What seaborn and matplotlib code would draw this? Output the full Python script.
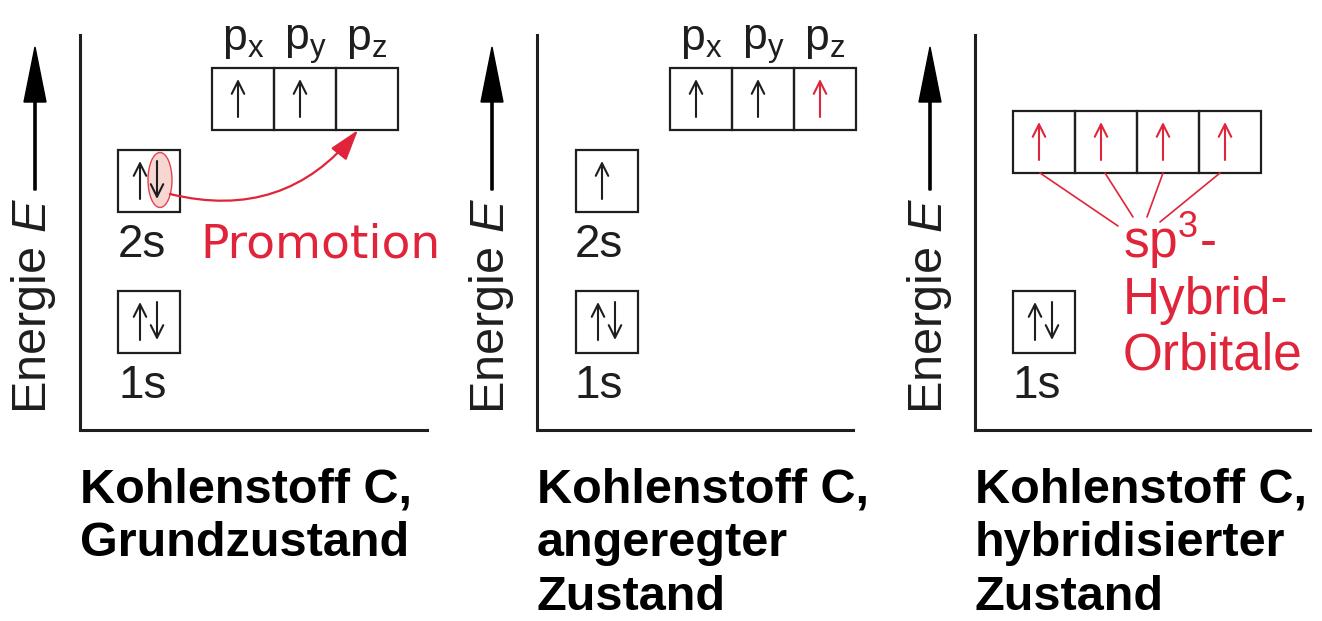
import matplotlib
matplotlib.use('Agg')
import matplotlib.pyplot as plt
from matplotlib.patches import Rectangle, Ellipse
import seaborn as sns

# energy of each level = bottom edge of its box, in px above the energy axis
level_1s = 77
level_2s = 218
level_2p = 300
level_sp3 = 257

# electrons in each orbital box
ground_1s = [2]
ground_2s = [2]
ground_2p = [1, 1, 0]
excited_1s = [2]
excited_2s = [1]
excited_2p = [1, 1, 1]
hybrid_1s = [2]
hybrid_sp3 = [1, 1, 1, 1]

# which electrons are drawn red (new / changed ones)
excited_2p_red = [False, False, True]
hybrid_sp3_red = [True, True, True, True]

p_labels = ['x', 'y', 'z']
title_ground = ['Kohlenstoff C,', 'Grundzustand']
title_excited = ['Kohlenstoff C,', 'angeregter', 'Zustand']
title_hybrid = ['Kohlenstoff C,', 'hybridisierter', 'Zustand']
sp3_label = ['sp$^3$-', 'Hybrid-', 'Orbitale']

# connector lines from the sp3 boxes to the label
sp3_line_x0 = [65, 130, 188, 245]
sp3_line_x1 = [143, 158, 172, 185]
sp3_line_y1 = [204, 213, 213, 208]

RED = '#e0243a'
INK = '#1e1e1e'
BOX = 62

sns.set_theme(style='white')
plt.rcParams['font.family'] = ['Liberation Sans', 'DejaVu Sans']
plt.rcParams['mathtext.fontset'] = 'custom'
plt.rcParams['mathtext.rm'] = 'Liberation Sans'
plt.rcParams['mathtext.it'] = 'Liberation Sans:italic'

W, H = 1322, 621
fig = plt.figure(figsize=(W / 100, H / 100), dpi=100)
fig.patch.set_facecolor('white')


def make_panel(x0, width):
    # axes in pixel units, origin at the corner of the energy axis
    ax = fig.add_axes([x0 / W, (H - 430) / H, width / W, 395 / H])
    ax.set_xlim(0, width)
    ax.set_ylim(0, 395)
    ax.set_xticks([])
    ax.set_yticks([])
    ax.set_facecolor('none')
    sns.despine(ax=ax)
    for s in ['left', 'bottom']:
        ax.spines[s].set_linewidth(2.2)
        ax.spines[s].set_color(INK)
    # energy arrow + label
    ax.arrow(-45, 240, 0, 143, width=2.2, head_width=22, head_length=55,
             length_includes_head=True, fc='black', ec='black', clip_on=False)
    ax.text(-46, 124, 'Energie $E$', rotation=90, ha='center', va='center',
            fontsize=35, color=INK)
    return ax


def spin(ax, x, cy, up, color):
    top, bot = cy + 20, cy - 18
    start, end = ((x, bot), (x, top)) if up else ((x, top), (x, bot))
    ax.annotate('', xy=end, xytext=start, annotation_clip=False,
                arrowprops=dict(arrowstyle='->,head_length=0.9,head_width=0.45',
                                lw=1.5, color=color, shrinkA=0, shrinkB=0,
                                mutation_scale=10))


def boxes(ax, x0, y0, occ, red=None):
    red = red or [False] * len(occ)
    for i, (n, r) in enumerate(zip(occ, red)):
        bx = x0 + i * BOX
        ax.add_patch(Rectangle((bx, y0), BOX, BOX, fill=False, lw=1.6,
                               ec=INK, clip_on=False))
        cx, cy = bx + BOX / 2, y0 + BOX / 2
        c = RED if r else INK
        if n == 1:
            spin(ax, cx - 5, cy, True, c)
        elif n == 2:
            spin(ax, cx - 9, cy, True, c)
            spin(ax, cx + 8, cy, False, c)


def level_label(ax, text, level):
    ax.text(38, level - 45, text, fontsize=33, color=INK, va='baseline')


def p_names(ax, x0):
    for i, s in enumerate(p_labels):
        ax.text(x0 + i * BOX + BOX / 2, 380, r'$\mathrm{p}_\mathrm{' + s + '}$',
                fontsize=32, color=INK, ha='center', va='baseline')


def title(ax, lines):
    for i, t in enumerate(lines):
        ax.text(0, -72 - 54 * i, t, fontsize=35, fontweight='bold',
                color='black', va='baseline')


# --- Grundzustand ---
ax1 = make_panel(80, 347)
boxes(ax1, 38, level_1s, ground_1s)
boxes(ax1, 38, level_2s, ground_2s)
boxes(ax1, 132, level_2p, ground_2p)
level_label(ax1, '1s', level_1s)
level_label(ax1, '2s', level_2s)
p_names(ax1, 132)
ax1.add_patch(Ellipse((80, 250), 24, 55, fc='#f6d2c8', ec=RED, lw=1.0,
                      alpha=0.85, zorder=1))
ax1.annotate('', xy=(278, 300), xytext=(90, 236), annotation_clip=False,
             arrowprops=dict(arrowstyle='-|>,head_length=1.9,head_width=0.6',
                             connectionstyle='arc3,rad=0.32', lw=1.6,
                             color=RED, shrinkA=0, shrinkB=0,
                             mutation_scale=10))
ax1.text(120, 173, 'Promotion', fontsize=34, color=RED, va='baseline',
         family='DejaVu Sans')
title(ax1, title_ground)

# --- angeregter Zustand ---
ax2 = make_panel(537, 316)
boxes(ax2, 39, level_1s, excited_1s)
boxes(ax2, 39, level_2s, excited_2s)
boxes(ax2, 133, level_2p, excited_2p, excited_2p_red)
level_label(ax2, '1s', level_1s)
level_label(ax2, '2s', level_2s)
p_names(ax2, 133)
title(ax2, title_excited)

# --- hybridisierter Zustand ---
ax3 = make_panel(975, 335)
boxes(ax3, 38, level_1s, hybrid_1s)
boxes(ax3, 38, level_sp3, hybrid_sp3, hybrid_sp3_red)
level_label(ax3, '1s', level_1s)
for x0, x1, y1 in zip(sp3_line_x0, sp3_line_x1, sp3_line_y1):
    sns.lineplot(x=[x0, x1], y=[level_sp3, y1], ax=ax3, color=RED,
                 lw=1.2, sort=False)
for i, t in enumerate(sp3_label):
    ax3.text(148, 172 - 56 * i, t, fontsize=37, color=RED, va='baseline')
title(ax3, title_hybrid)

fig.savefig('out.png', dpi=100, facecolor='white')
